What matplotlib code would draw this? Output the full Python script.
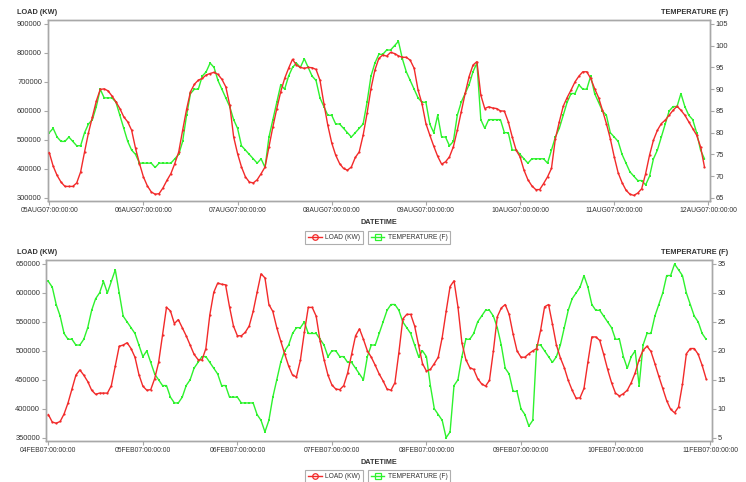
"""Hourly electric load and temperature, one week in August and one in February."""

import matplotlib

matplotlib.use("Agg")

import matplotlib.pyplot as plt
import numpy as np
from matplotlib.lines import Line2D

plt.rcParams["font.family"] = ["Liberation Sans", "DejaVu Sans"]

RED = "#f22a2a"
GREEN = "#2ef22e"
FRAME = "#a8a8a8"
TEXT = "#333333"

AUG_TICKS = ["05AUG07:00:00:00", "06AUG07:00:00:00", "07AUG07:00:00:00",
             "08AUG07:00:00:00", "09AUG07:00:00:00", "10AUG07:00:00:00",
             "11AUG07:00:00:00", "12AUG07:00:00:00"]
FEB_TICKS = ["04FEB07:00:00:00", "05FEB07:00:00:00", "06FEB07:00:00:00",
             "07FEB07:00:00:00", "08FEB07:00:00:00", "09FEB07:00:00:00",
             "10FEB07:00:00:00", "11FEB07:00:00:00"]

# hourly load, thousands of kW (converted on plotting)
AUG_LOAD = [
    456, 409, 377, 354, 339, 339, 339, 351, 389, 458, 524, 579,
    634, 674, 676, 669, 651, 631, 608, 579, 562, 533, 470, 418,
    372, 341, 320, 312, 314, 334, 360, 383, 418, 458, 533, 605,
    666, 692, 706, 712, 724, 729, 733, 726, 709, 683, 620, 510,
    452, 406, 372, 354, 351, 362, 383, 406, 476, 545, 608, 666,
    712, 747, 778, 758, 750, 747, 750, 749, 743, 706, 625, 550,
    489, 447, 418, 401, 395, 406, 439, 458, 516, 591, 677, 741,
    781, 793, 789, 802, 798, 790, 785, 785, 775, 747, 672, 625,
    556, 516, 478, 443, 416, 424, 441, 476, 533, 597, 660, 718,
    758, 770, 654, 608, 614, 610, 608, 600, 599, 562, 510, 464,
    441, 395, 362, 341, 328, 328, 349, 372, 401, 504, 562, 616,
    646, 672, 700, 720, 735, 735, 712, 677, 646, 602, 556, 504,
    441, 386, 352, 326, 312, 308, 316, 331, 383, 447, 499, 533,
    556, 568, 585, 602, 616, 602, 585, 562, 539, 516, 476, 406,
]
AUG_TEMP = [
    80, 81, 79, 78, 78, 79, 78, 77, 77, 80, 82, 83,
    86, 90, 88, 88, 88, 87, 84, 81, 78, 76, 75, 73,
    73, 73, 73, 72, 73, 73, 73, 73, 74, 75, 78, 84,
    89, 90, 90, 93, 94, 96, 95, 92, 90, 88, 86, 83,
    81, 77, 76, 75, 74, 73, 74, 72, 79, 83, 87, 91,
    90, 93, 95, 96, 95, 97, 95, 93, 92, 88, 86, 84,
    84, 82, 82, 81, 80, 79, 80, 81, 82, 87, 93, 96,
    98, 98, 99, 99, 100, 101, 97, 94, 92, 90, 88, 87,
    87, 82, 80, 84, 79, 79, 77, 78, 84, 87, 89, 91,
    94, 96, 83, 81, 83, 83, 83, 83, 80, 80, 76, 76,
    75, 74, 73, 74, 74, 74, 74, 73, 76, 79, 81, 84,
    87, 89, 89, 91, 90, 90, 93, 89, 87, 85, 84, 80,
    79, 78, 75, 73, 71, 70, 69, 69, 68, 70, 74, 76,
    79, 82, 85, 86, 86, 89, 86, 84, 83, 80, 76, 74,
]
FEB_LOAD = [
    390, 377, 375, 378, 391, 410, 434, 458, 467, 458, 447, 432,
    425, 427, 427, 427, 440, 474, 508, 510, 514, 504, 489, 459,
    439, 432, 433, 452, 480, 527, 575, 569, 547, 554, 540, 526,
    510, 494, 485, 484, 504, 562, 601, 617, 615, 614, 576, 543,
    526, 526, 532, 543, 568, 601, 633, 626, 580, 568, 540, 517,
    495, 474, 458, 455, 484, 532, 575, 575, 560, 517, 485, 458,
    441, 434, 433, 440, 462, 494, 526, 538, 520, 500, 489, 475,
    460, 448, 434, 432, 445, 497, 555, 563, 563, 543, 510, 478,
    465, 468, 478, 489, 523, 568, 611, 621, 576, 514, 485, 471,
    468, 452, 443, 439, 449, 500, 559, 574, 580, 563, 529, 500,
    489, 489, 495, 500, 504, 536, 576, 580, 546, 510, 488, 471,
    449, 432, 418, 419, 435, 481, 524, 524, 518, 494, 468, 445,
    427, 422, 426, 432, 445, 462, 485, 501, 508, 499, 478, 456,
    435, 414, 399, 393, 403, 442, 495, 504, 504, 494, 475, 452,
]
FEB_TEMP = [
    32, 31, 28, 26, 23, 22, 22, 21, 21, 22, 24, 27,
    29, 30, 32, 30, 32, 34, 30, 26, 25, 24, 23, 21,
    19, 20, 18, 16, 15, 14, 14, 12, 11, 11, 12, 14,
    15, 17, 18, 19, 19, 18, 17, 16, 14, 14, 12, 12,
    12, 11, 11, 11, 11, 9, 8, 6, 8, 12, 15, 18,
    20, 21, 23, 24, 24, 25, 23, 23, 23, 22, 21, 19,
    20, 20, 19, 19, 18, 18, 17, 16, 15, 19, 21, 21,
    23, 25, 27, 28, 28, 27, 25, 24, 23, 21, 19, 20,
    19, 14, 10, 9, 8, 5, 6, 14, 15, 19, 22, 22,
    23, 25, 26, 27, 27, 26, 24, 21, 17, 16, 13, 13,
    10, 9, 7, 8, 21, 21, 20, 19, 18, 19, 21, 24,
    27, 29, 30, 31, 33, 31, 28, 27, 27, 26, 25, 24,
    22, 22, 19, 17, 19, 20, 14, 21, 23, 23, 26, 28,
    30, 33, 33, 35, 34, 33, 30, 28, 26, 25, 23, 22,
]


def _style(ax):
    for s in ax.spines.values():
        s.set_color(FRAME)
        s.set_linewidth(1.0)
    ax.tick_params(axis="both", colors=FRAME, labelcolor=TEXT, labelsize=5.4,
                   length=2.6, width=0.8, pad=1.5)
    ax.tick_params(axis="x", labelsize=4.9, pad=2.0)


def _panel(fig, rect, load, temp, ticks, lylim, lyticks, tylim, tyticks, xlim, label_y):
    hours = np.arange(len(load))
    ax = fig.add_axes(rect)
    ax.plot(hours, np.asarray(load) * 1000, color=RED, lw=1.0, marker="o",
            ms=1.6, mew=0, zorder=3)
    ax.set_ylim(*lylim)
    ax.set_yticks(lyticks)
    ax.set_yticklabels([f"{v}" for v in lyticks])
    ax.set_xlim(*xlim)
    ax.set_xticks(np.arange(0, 169, 24))
    ax.set_xticklabels(ticks)
    ax.set_xlabel("DATETIME", fontsize=5.2, fontweight="bold", color=TEXT, labelpad=3)
    _style(ax)

    ax2 = ax.twinx()
    ax2.plot(hours, temp, color=GREEN, lw=1.0, marker="s", ms=1.6, mew=0, zorder=2)
    ax2.set_ylim(*tylim)
    ax2.set_yticks(tyticks)
    _style(ax2)
    ax2.set_zorder(ax.get_zorder() - 1)
    ax.patch.set_visible(False)

    fig.text(17 / 746, label_y, "LOAD (KW)", fontsize=5.3, fontweight="bold",
             color=TEXT, ha="left", va="center")
    fig.text(728 / 746, label_y, "TEMPERATURE (F)", fontsize=5.3, fontweight="bold",
             color=TEXT, ha="right", va="center")
    return ax, ax2


def _legends(fig, y):
    h_load = Line2D([], [], color=RED, lw=1.0, marker="o", ms=4, mfc="none", mew=0.9)
    h_temp = Line2D([], [], color=GREEN, lw=1.0, marker="s", ms=4, mfc="none", mew=0.9)
    entries = [(h_load, "LOAD (KW)", "center right", 363),
               (h_temp, "TEMPERATURE (F)", "center left", 368)]
    for handle, text, loc, xe in entries:
        leg = fig.legend([handle], [text], loc=loc, bbox_to_anchor=(xe / 746, y),
                         fontsize=4.8, frameon=True, fancybox=False, handlelength=2.0,
                         handletextpad=0.5, borderpad=0.45, borderaxespad=0)
        leg.get_frame().set_edgecolor("#9a9a9a")
        leg.get_frame().set_linewidth(0.8)
        for t in leg.get_texts():
            t.set_color(TEXT)


def run():
    fig = plt.figure(figsize=(7.46, 4.82), dpi=100)

    _panel(fig, [0.0639, 0.583, 0.8878, 0.3755], AUG_LOAD, AUG_TEMP, AUG_TICKS,
           (288600, 913800), list(range(300000, 900001, 100000)),
           (64.3, 105.9), list(range(65, 106, 5)), (-0.4, 168.4), 1 - 12 / 482)
    _legends(fig, 1 - 237.5 / 482)

    _panel(fig, [0.0613, 0.0851, 0.8931, 0.3755], FEB_LOAD, FEB_TEMP, FEB_TICKS,
           (344300, 656900), list(range(350000, 650001, 50000)),
           (4.43, 35.69), list(range(5, 36, 5)), (-0.66, 168.5), 1 - 252 / 482)
    _legends(fig, 1 - 476.5 / 482)

    fig.savefig("out.png", dpi=100)
    plt.close(fig)


if __name__ == "__main__":
    run()
